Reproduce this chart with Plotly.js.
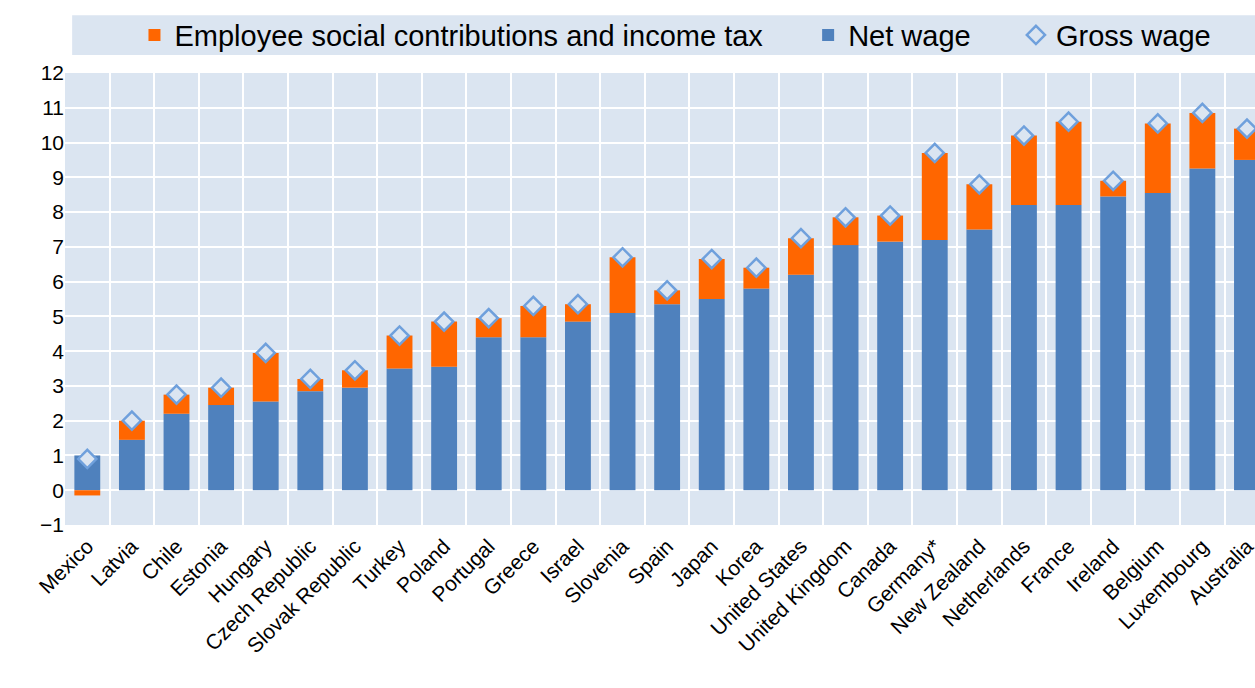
<!DOCTYPE html>
<html><head><meta charset="utf-8">
<script src="https://cdn.plot.ly/plotly-3.0.1.min.js"></script>
<style>body{margin:0}#graph{width:1255px;height:688px}</style>
</head><body><div id="graph"></div>
<script>
const countries = ["Mexico","Latvia","Chile","Estonia","Hungary","Czech Republic","Slovak Republic","Turkey","Poland","Portugal","Greece","Israel","Slovenia","Spain","Japan","Korea","United States","United Kingdom","Canada","Germany*","New Zealand","Netherlands","France","Ireland","Belgium","Luxembourg","Australia"]
const netWage = [1.0,1.45,2.2,2.45,2.55,2.85,2.95,3.5,3.55,4.4,4.4,4.85,5.1,5.35,5.5,5.8,6.2,7.05,7.15,7.2,7.5,8.2,8.2,8.45,8.55,9.25,9.5]
const grossWage = [0.9,2.0,2.75,2.95,3.95,3.2,3.45,4.45,4.85,4.95,5.3,5.35,6.7,5.75,6.65,6.4,7.25,7.85,7.9,9.7,8.8,10.2,10.6,8.9,10.55,10.85,10.4]
const taxes = [-0.15,0.55,0.55,0.5,1.4,0.35,0.5,0.95,1.3,0.55,0.9,0.5,1.6,0.4,1.15,0.6,1.05,0.8,0.75,2.5,1.3,2.0,2.4,0.45,2.0,1.6,0.9]

const pad = '\u00a0'.repeat(5)
const traces = [
  {type:'bar', name:'Net wage' + pad, x:countries, y:netWage, marker:{color:'#4f81bd'}, legendrank:2},
  {type:'bar', name:'Employee social contributions and income tax' + pad, x:countries, y:taxes, marker:{color:'#ff6600'}, legendrank:1},
  {type:'scatter', mode:'markers', name:'Gross wage', x:countries, y:grossWage, legendrank:3,
   marker:{symbol:'diamond', size:14, color:'#dbe5f1', line:{color:'#6fa0dc', width:2.5}}}
]
const layout = {
  barmode:'relative', bargap:0.42,
  font:{family:'Liberation Sans, Arial', size:18, color:'#000'},
  paper_bgcolor:'#fff', plot_bgcolor:'#dbe5f1',
  margin:{l:65, r:0, t:73, b:163},
  xaxis:{range:[-0.5,26.18], tickangle:-45, tickson:'boundaries', showgrid:true, gridcolor:'#fff', gridwidth:2, ticks:'', tickfont:{size:21}, automargin:false, ticklabelstandoff:4},
  yaxis:{range:[-1,12], dtick:1, gridcolor:'#fff', gridwidth:2, zeroline:false, tickfont:{size:21}, ticklen:0, automargin:false},
  showlegend:true,
  legend:{orientation:'h', x:0.513, xanchor:'center', yref:'container', y:0.949, yanchor:'middle', bgcolor:'rgba(0,0,0,0)', font:{size:29}, itemwidth:30},
  shapes:[{type:'rect', xref:'paper', yref:'paper', x0:0.006, x1:1, y0:1.04, y1:1.128, fillcolor:'#dbe5f1', line:{width:0}, layer:'below'}]
}
Plotly.newPlot('graph', traces, layout, {displayModeBar:false})
</script></body></html>
